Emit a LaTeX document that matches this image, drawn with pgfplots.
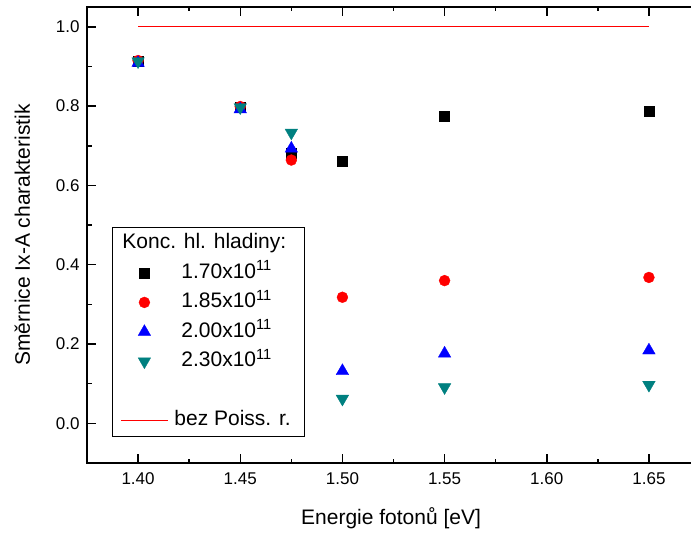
\documentclass[border=0pt]{standalone}
\usepackage{fontspec}
\setmainfont{Liberation Sans}
\usepackage{pgfplots}
\pgfplotsset{compat=1.18}
\definecolor{cteal}{RGB}{0,128,128}
\definecolor{cblue}{RGB}{0,0,255}
\definecolor{cred}{RGB}{255,0,0}
\begin{document}
\begin{tikzpicture}
\begin{axis}[
  width=613pt, height=456pt, scale only axis,
  xmin=1.375, xmax=1.675, ymin=-0.1, ymax=1.05,
  xtick={1.40,1.45,1.50,1.55,1.60,1.65},
  ytick={0,0.2,0.4,0.6,0.8,1.0},
  minor x tick num=1, minor y tick num=1,
  tick align=inside,
  major tick length=9pt, minor tick length=4.5pt,
  axis line style={line width=1.8pt},
  major tick style={black, line width=1.5pt},
  minor tick style={black, line width=1.5pt},
  /pgf/number format/assume math mode=true,
  xticklabel style={font=\fontsize{17}{20}\selectfont, yshift=-6pt, /pgf/number format/.cd, fixed, fixed zerofill, precision=2},
  yticklabel style={font=\fontsize{17}{20}\selectfont, xshift=-4pt, /pgf/number format/.cd, fixed, fixed zerofill, precision=1},
  xlabel={Energie fotonů [eV]},
  ylabel={Směrnice Ix-A charakteristik},
  label style={font=\fontsize{21}{25}\selectfont},
  xlabel style={at={(axis description cs:0.496,-0.1338)}, anchor=base},
  ylabel style={at={(axis description cs:-0.093,0.5)}, anchor=base},
  legend cell align=left,
  legend image code/.code={\draw[mark repeat=2,mark phase=2,#1] plot coordinates {(0pt,0pt)(23.5pt,0pt)(47pt,0pt)};},
  legend style={at={(axis description cs:0.0408,0.5175)}, anchor=north west,
    draw=black, line width=0.8pt, fill=white, inner xsep=8pt, inner ysep=5.25pt,
    font=\fontsize{21}{25}\selectfont, row sep=8pt,
    nodes={inner sep=1pt, text height=15pt, text depth=4.5pt},
    /tikz/every odd column/.append style={column sep=5pt}},
]
\addlegendimage{empty legend}
\addlegendentry{\hspace*{-52pt}Konc. hl. hladiny:}

\addplot[only marks, black, mark=square*, mark size=5pt, mark options={fill=black, line width=0.3pt}]
  coordinates {(1.40,0.913) (1.45,0.797) (1.475,0.682) (1.50,0.660) (1.55,0.775) (1.65,0.787)};
\addlegendentry{\hspace*{7pt}1.70x10\textsuperscript{11}}

\addplot[only marks, cred, mark=*, mark size=5.5pt, mark options={fill=cred, line width=0.3pt}]
  coordinates {(1.40,0.915) (1.45,0.799) (1.475,0.664) (1.50,0.318) (1.55,0.360) (1.65,0.368)};
\addlegendentry{\hspace*{7pt}1.85x10\textsuperscript{11}}

\addplot[only marks, cblue, mark=triangle*, mark size=7.3pt, mark options={fill=cblue, line width=0.3pt}]
  coordinates {(1.40,0.909) (1.45,0.792) (1.475,0.693) (1.50,0.132) (1.55,0.176) (1.65,0.184)};
\addlegendentry{\hspace*{7pt}2.00x10\textsuperscript{11}}

\addplot[only marks, cteal, mark=triangle*, mark size=7.3pt, mark options={rotate=180, fill=cteal, line width=0.3pt}]
  coordinates {(1.40,0.913) (1.45,0.797) (1.475,0.733) (1.50,0.062) (1.55,0.091) (1.65,0.097)};
\addlegendentry{\hspace*{7pt}2.30x10\textsuperscript{11}}

\addlegendimage{empty legend}
\addlegendentry{}

\addplot[cred, line width=1pt] coordinates {(1.40,1.0) (1.65,1.0)};
\addlegendentry{bez Poiss. r.\hspace*{5pt}}
\end{axis}
\pgfresetboundingbox
\path[use as bounding box] ([xshift=-87pt,yshift=-71pt]current axis.south west) rectangle ([xshift=-9pt,yshift=7pt]current axis.north east);
\end{tikzpicture}
\end{document}
